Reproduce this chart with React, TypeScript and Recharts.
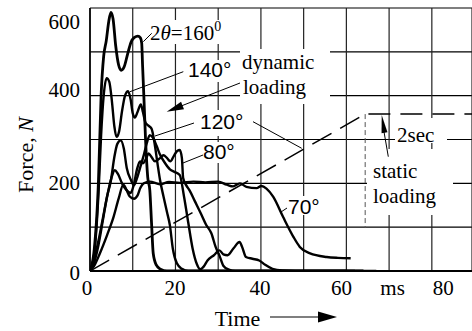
import React from 'react';
import { LineChart, Line, XAxis, YAxis, CartesianGrid } from 'recharts';

// ---------- data ----------
const xTicks = [0, 10, 20, 30, 40, 50, 60, 70, 80];
const yTicks = [0, 100, 200, 300, 400, 500, 600];
const xTickLabels: Record<number, string> = { 0: '0', 20: '20', 40: '40', 60: '60', 70: 'ms', 80: '80' };
const yTickLabels: Record<number, string> = { 0: '0', 200: '200', 400: '400', 600: '600' };

// [time ms, force N]
const curve160: [number, number][] = [
  [0, 0], [1, 50], [2, 210], [2.6, 400], [3.2, 490], [3.8, 525], [4.4, 570], [4.9, 590], [5.4, 575],
  [6, 515], [6.7, 470], [7.3, 458], [8, 466], [8.8, 495], [9.6, 522], [10.4, 533], [11.2, 536],
  [11.8, 532], [12.1, 520], [12.3, 470], [12.6, 400], [13, 300], [13.5, 215], [14, 184], [14.4, 110],
  [14.8, 40], [15.5, 14], [16.5, 4], [18, 0], [64, 0],
];
const curve140: [number, number][] = [
  [0, 0], [1, 40], [2, 180], [2.6, 310], [3.2, 400], [3.9, 440], [4.5, 432], [5.1, 390], [5.7, 330],
  [6.2, 306], [6.8, 318], [7.5, 365], [8.2, 400], [8.9, 410], [9.5, 392], [10, 360], [10.5, 350],
  [11.1, 362], [11.9, 380], [12.4, 362], [13, 338], [13.6, 332], [14.4, 325], [15.1, 292], [15.8, 245],
  [16.4, 207], [17.2, 170], [18, 135], [18.7, 104], [19.4, 50], [20.3, 18], [21.5, 5], [23, 0], [62, 0],
];
const curve120: [number, number][] = [
  [0, 0], [1, 20], [2, 60], [3, 115], [4, 170], [4.9, 207], [5.7, 260], [6.4, 290], [7.2, 298],
  [7.9, 280], [8.6, 235], [9.6, 207], [10.3, 196], [11, 212], [11.8, 238], [12.6, 265], [13.3, 292],
  [14, 310], [14.8, 303], [15.6, 285], [16.4, 265], [17.5, 247], [18.7, 232], [19.8, 226], [21, 219],
  [22, 170], [23, 110], [24, 52], [25, 16], [25.8, 4], [26.6, 10], [27.5, 24], [29, 36], [30.3, 47],
  [31.2, 38], [32.2, 36], [33.6, 52], [35, 66], [35.6, 55], [36.5, 32], [38, 28], [39.6, 24],
  [41, 14], [42.7, 5], [45, 1], [48, 0], [67, 0],
];
const curve80: [number, number][] = [
  [0, 0], [1, 28], [2, 70], [3, 120], [4, 170], [5, 212], [5.8, 230], [6.5, 222], [7.5, 200],
  [8.5, 185], [9.5, 178], [10.2, 195], [11, 232], [11.7, 250], [12.4, 246], [13.1, 256], [13.7, 268],
  [14.4, 260], [15.2, 250], [16.2, 256], [17.2, 264], [18, 258], [18.8, 250], [19.6, 262], [20.4, 274],
  [21, 276], [21.5, 258], [21.8, 212], [22.5, 196], [23.3, 184], [24.5, 160], [26, 130], [27.2, 105],
  [28.4, 86], [29.4, 55], [30.3, 35], [31.2, 12], [32.5, 3], [34, 0], [60, 0],
];
const curve70: [number, number][] = [
  [0, 0], [1, 12], [2.3, 40], [4, 82], [5.5, 123], [6.7, 165], [7.8, 197], [8.5, 186], [9.3, 170],
  [10.3, 165], [11.1, 172], [11.8, 190], [12.6, 200], [14, 204], [16.4, 198], [18.5, 203], [21, 201],
  [24.2, 204], [27, 202], [30, 204], [32, 197], [33.5, 193], [35.1, 200], [36.6, 192], [39, 189],
  [40.1, 194], [41.3, 188], [42.9, 169], [45.2, 123], [47.6, 78], [49.1, 55], [51.5, 40], [55.4, 32],
  [58, 30], [61, 29],
];
const staticLoading: [number, number][] = [[0, 0], [64.4, 358], [89.4, 358]];
const staticDrop: [number, number][] = [[64.4, 358], [64.4, 98]];

const toPts = (arr: [number, number][]) => arr.map(([t, f]) => ({ t, f }));

// ---------- styles ----------
const SERIF = "'Liberation Serif', 'Times New Roman', serif";
const SANS = "'Liberation Sans', Arial, sans-serif";
const xTickShift: Record<number, number> = { 0: -3, 20: -0.5, 40: -1, 60: -5, 70: 3.5, 80: 11.5 };
const yTickDy: Record<number, number> = { 0: 8.5, 200: 6.7, 400: 1.5, 600: 20.5 };

const XTick = (props: any) => {
  const { x, y, payload } = props;
  const v = payload.value as number;
  const label = xTickLabels[v];
  if (!label) return <g />;
  return (
    <text x={x + (xTickShift[v] ?? 0)} y={y + 24} textAnchor="middle" fontFamily={SERIF} fontSize={21} fill="#000">
      {label}
    </text>
  );
};

const YTick = (props: any) => {
  const { x, y, payload } = props;
  const v = payload.value as number;
  const label = yTickLabels[v];
  if (!label) return <g />;
  return (
    <text x={x - 10} y={y + (yTickDy[v] ?? 7)} textAnchor="end" fontFamily={SERIF} fontSize={21} fill="#000">
      {label}
    </text>
  );
};

function arrowHead(x1: number, y1: number, tx: number, ty: number, len: number, half: number) {
  const dx = tx - x1, dy = ty - y1;
  const d = Math.hypot(dx, dy);
  const ux = dx / d, uy = dy / d;
  const bx = tx - ux * len, by = ty - uy * len;
  const px = -uy * half, py = ux * half;
  return `${tx},${ty} ${bx + px},${by + py} ${bx - px},${by - py}`;
}

const Overlay = () => (
  <svg width={472} height={331} style={{ position: 'absolute', left: 0, top: 0, pointerEvents: 'none' }}>
    {/* white backgrounds behind annotations */}
    <rect x={150} y={20} width={82} height={24} fill="#fff" />
    <rect x={186} y={60} width={50} height={22} fill="#fff" />
    <rect x={240} y={49} width={90} height={55} fill="#fff" />
    <rect x={198} y={110} width={47} height={26} fill="#fff" />
    <rect x={201} y={142} width={38} height={21} fill="#fff" />
    <rect x={287} y={196} width={35} height={19} fill="#fff" />
    <rect x={395} y={118} width={52} height={25} fill="#fff" />
    <rect x={367} y={149} width={86} height={66} fill="#fff" />

    {/* labels */}
    <text x={150} y={40} fontFamily={SERIF} fontSize={21} fill="#000">
      2<tspan fontStyle="italic">θ</tspan>=160<tspan fontSize={14} dy={-9}>0</tspan>
    </text>
    <line x1={151.7} y1={33.3} x2={143.3} y2={41.7} stroke="#000" strokeWidth={1} />

    <text x={188} y={77} fontFamily={SANS} fontSize={21} fill="#000">140°</text>
    <line x1={183.3} y1={71.7} x2={130} y2={91.7} stroke="#000" strokeWidth={1} />

    <text x={242} y={69} fontFamily={SERIF} fontSize={21} fill="#000">dynamic</text>
    <text x={243} y={94} fontFamily={SERIF} fontSize={21} fill="#000">loading</text>
    <line x1={240} y1={83} x2={175} y2={108.4} stroke="#000" strokeWidth={1} />
    <polygon points={arrowHead(240, 83, 166.7, 111.7, 17, 4)} fill="#000" />

    <text x={200} y={129} fontFamily={SANS} fontSize={21} fill="#000">120°</text>
    <line x1={194} y1={123} x2={155} y2={136} stroke="#000" strokeWidth={1} />
    <line x1={253} y1={121.7} x2={301.7} y2={148.3} stroke="#000" strokeWidth={1} />

    <text x={203} y={159} fontFamily={SANS} fontSize={21} fill="#000">80°</text>
    <line x1={203} y1={155} x2={183} y2={163} stroke="#000" strokeWidth={1} />

    <text x={288} y={214} fontFamily={SANS} fontSize={21} fill="#000">70°</text>
    <line x1={287} y1={208} x2={281} y2={212} stroke="#000" strokeWidth={1} />

    <text x={397} y={141.5} fontFamily={SERIF} fontSize={21} fill="#000">2sec</text>
    <text x={373} y={178} fontFamily={SERIF} fontSize={21} fill="#000">static</text>
    <text x={373} y={203} fontFamily={SERIF} fontSize={21} fill="#000">loading</text>
    <line x1={388.3} y1={156.7} x2={383} y2={126} stroke="#000" strokeWidth={1} />
    <polygon points={arrowHead(388.3, 156.7, 381.7, 115, 18, 3)} fill="#000" />

    {/* axis titles */}
    <text
      transform="translate(33,155) rotate(-90)"
      textAnchor="middle"
      fontFamily={SERIF}
      fontSize={22}
      fill="#000"
    >
      Force, <tspan fontStyle="italic">N</tspan>
    </text>
    <text x={237.5} y={326} textAnchor="middle" fontFamily={SERIF} fontSize={22} fill="#000">Time</text>
    <line x1={270} y1={317} x2={320} y2={317} stroke="#000" strokeWidth={1.2} />
    <polygon points="318,311.5 337,317 318,322.5" fill="#000" />
  </svg>
);

export default function App() {
  const lineProps = {
    type: 'monotone' as const,
    dataKey: 'f',
    stroke: '#000',
    strokeWidth: 2.4,
    dot: false,
    activeDot: false,
    isAnimationActive: false,
  };
  return (
    <div style={{ position: 'absolute', left: 0, top: 0, width: 472, height: 331, background: '#fff' }}>
      <LineChart width={472} height={331} margin={{ top: 8, right: 0, bottom: 0, left: 0 }}>
        <CartesianGrid horizontal={true} vertical={false} stroke="#000" strokeWidth={1.2} />
        <CartesianGrid horizontal={false} vertical={true} stroke="#222" strokeWidth={1.2} />
        <XAxis
          dataKey="t"
          type="number"
          domain={[0, 89.4]}
          ticks={xTicks}
          allowDataOverflow
          height={60}
          tickLine={false}
          tickSize={0}
          tickMargin={0}
          axisLine={{ stroke: '#000', strokeWidth: 2 }}
          tick={<XTick />}
          interval={0}
        />
        <YAxis
          type="number"
          domain={[0, 600]}
          ticks={yTicks}
          allowDataOverflow
          width={90}
          tickLine={false}
          tickSize={0}
          tickMargin={0}
          axisLine={{ stroke: '#000', strokeWidth: 1.6 }}
          tick={<YTick />}
          interval={0}
        />
        <Line {...lineProps} data={toPts(staticLoading)} type="linear" strokeWidth={1.5} strokeDasharray="22 10" />
        <Line {...lineProps} data={toPts(staticDrop)} type="linear" strokeWidth={1} stroke="#555" strokeDasharray="5 3" />
        <Line {...lineProps} data={toPts(curve70)} />
        <Line {...lineProps} data={toPts(curve80)} />
        <Line {...lineProps} data={toPts(curve120)} />
        <Line {...lineProps} data={toPts(curve140)} />
        <Line {...lineProps} data={toPts(curve160)} strokeWidth={2.8} />
      </LineChart>
      <Overlay />
    </div>
  );
}
